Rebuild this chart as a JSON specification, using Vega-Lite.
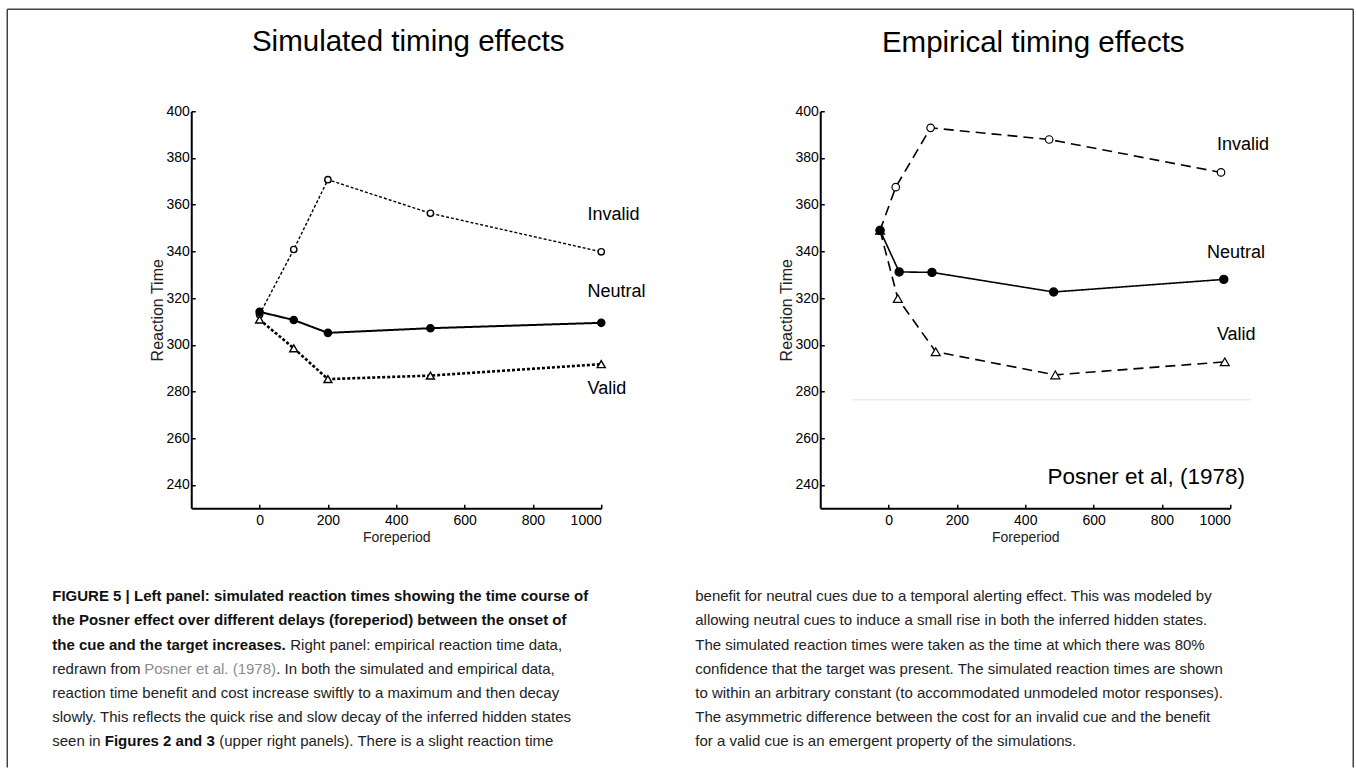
{
  "$schema": "https://vega.github.io/schema/vega-lite/v6.json",
  "padding": {"left": 6.25, "top": 8.25, "right": 1, "bottom": 0},
  "bounds": "flush",
  "spacing": 219,
  "resolve": {"scale": {"strokeDash": "independent", "strokeWidth": "independent", "size": "independent", "shape": "independent", "fill": "independent"}},
  "config": {
    "view": {"stroke": null},
    "font": "Liberation Sans",
    "axis": {
      "domainColor": "black", "domainWidth": 2, "tickColor": "black", "tickWidth": 1.5, "tickSize": -4,
      "labelFont": "Liberation Sans", "labelFontSize": 14, "labelColor": "black",
      "titleFont": "Liberation Sans", "titleFontSize": 14, "titleFontWeight": "normal", "titleColor": "#222",
      "grid": false
    }
  },
  "datasets": {
    "simulated": [
      {"cue": "Invalid", "foreperiod": 0, "rt": 313},
      {"cue": "Invalid", "foreperiod": 100, "rt": 340.8},
      {"cue": "Invalid", "foreperiod": 200, "rt": 370.7},
      {"cue": "Invalid", "foreperiod": 500, "rt": 356.3},
      {"cue": "Invalid", "foreperiod": 1000, "rt": 339.8},
      {"cue": "Valid", "foreperiod": 0, "rt": 310.8},
      {"cue": "Valid", "foreperiod": 100, "rt": 298.5},
      {"cue": "Valid", "foreperiod": 200, "rt": 285.3},
      {"cue": "Valid", "foreperiod": 500, "rt": 286.8},
      {"cue": "Valid", "foreperiod": 1000, "rt": 291.7},
      {"cue": "Neutral", "foreperiod": 0, "rt": 314.1},
      {"cue": "Neutral", "foreperiod": 100, "rt": 310.6},
      {"cue": "Neutral", "foreperiod": 200, "rt": 305.1},
      {"cue": "Neutral", "foreperiod": 500, "rt": 307.1},
      {"cue": "Neutral", "foreperiod": 1000, "rt": 309.4}
    ],
    "empirical": [
      {"cue": "Invalid", "foreperiod": -25, "rt": 349},
      {"cue": "Invalid", "foreperiod": 21, "rt": 367.5},
      {"cue": "Invalid", "foreperiod": 123, "rt": 392.9},
      {"cue": "Invalid", "foreperiod": 470, "rt": 387.9},
      {"cue": "Invalid", "foreperiod": 973, "rt": 373.8},
      {"cue": "Valid", "foreperiod": -25, "rt": 349},
      {"cue": "Valid", "foreperiod": 27, "rt": 319.8},
      {"cue": "Valid", "foreperiod": 138, "rt": 297},
      {"cue": "Valid", "foreperiod": 488, "rt": 287.1},
      {"cue": "Valid", "foreperiod": 984, "rt": 292.7},
      {"cue": "Neutral", "foreperiod": -25, "rt": 349},
      {"cue": "Neutral", "foreperiod": 31, "rt": 331.2},
      {"cue": "Neutral", "foreperiod": 127, "rt": 331},
      {"cue": "Neutral", "foreperiod": 483, "rt": 322.6},
      {"cue": "Neutral", "foreperiod": 981, "rt": 328}
    ],
    "simLabels": [
      {"label": "Invalid", "foreperiod": 960, "rt": 355.4},
      {"label": "Neutral", "foreperiod": 960, "rt": 322.5},
      {"label": "Valid", "foreperiod": 960, "rt": 281.1}
    ],
    "empLabels": [
      {"label": "Invalid", "foreperiod": 961, "rt": 385.7},
      {"label": "Neutral", "foreperiod": 932, "rt": 339.5},
      {"label": "Valid", "foreperiod": 961, "rt": 304}
    ],
    "source": [{"label": "Posner et al, (1978)", "foreperiod": 465, "rt": 243.3}],
    "scanline": [{"from": -107, "to": 1061, "rt": 276.5}],
    "caption": [
      {"col": 0, "line": 1, "run": "bold", "text": "FIGURE 5 | Left panel: simulated reaction times showing the time course of"},
      {"col": 0, "line": 2, "run": "bold", "text": "the Posner effect over different delays (foreperiod) between the onset of"},
      {"col": 0, "line": 3, "run": "bold", "text": "the cue and the target increases."},
      {"col": 0, "line": 3, "run": "cont3", "text": "Right panel: empirical reaction time data,"},
      {"col": 0, "line": 4, "run": "plain", "text": "redrawn from"},
      {"col": 0, "line": 4, "run": "link4", "text": "Posner et al. (1978)"},
      {"col": 0, "line": 4, "run": "cont4", "text": ". In both the simulated and empirical data,"},
      {"col": 0, "line": 5, "run": "plain", "text": "reaction time benefit and cost increase swiftly to a maximum and then decay"},
      {"col": 0, "line": 6, "run": "plain", "text": "slowly. This reflects the quick rise and slow decay of the inferred hidden states"},
      {"col": 0, "line": 7, "run": "plain", "text": "seen in"},
      {"col": 0, "line": 7, "run": "bold7", "text": "Figures 2 and 3"},
      {"col": 0, "line": 7, "run": "cont7", "text": "(upper right panels). There is a slight reaction time"},
      {"col": 1, "line": 1, "run": "plain", "text": "benefit for neutral cues due to a temporal alerting effect. This was modeled by"},
      {"col": 1, "line": 2, "run": "plain", "text": "allowing neutral cues to induce a small rise in both the inferred hidden states."},
      {"col": 1, "line": 3, "run": "plain", "text": "The simulated reaction times were taken as the time at which there was 80%"},
      {"col": 1, "line": 4, "run": "plain", "text": "confidence that the target was present. The simulated reaction times are shown"},
      {"col": 1, "line": 5, "run": "plain", "text": "to within an arbitrary constant (to accommodated unmodeled motor responses)."},
      {"col": 1, "line": 6, "run": "plain", "text": "The asymmetric difference between the cost for an invalid cue and the benefit"},
      {"col": 1, "line": 7, "run": "plain", "text": "for a valid cue is an emergent property of the simulations."}
    ]
  },
  "hconcat": [
    {
      "width": 410, "height": 397,
      "title": {"text": "Simulated timing effects", "fontSize": 29.5, "font": "Liberation Sans", "fontWeight": "normal", "color": "black", "anchor": "middle", "frame": "group", "dx": 12, "baseline": "alphabetic", "offset": -71.75},
      "resolve": {"scale": {"x": "independent", "y": "independent"}, "axis": {"x": "independent", "y": "independent"}},
      "layer": [
        {
          "layer": [
            {
              "data": {"name": "simulated"},
              "mark": {"type": "line", "color": "black"},
              "encoding": {
                "x": {"field": "foreperiod", "type": "quantitative", "scale": {"domain": [-200, 1000], "nice": false, "zero": false},
                      "axis": {"title": "Foreperiod", "orient": "bottom", "format": "d", "values": [0, 200, 400, 600, 800, 1000], "labelPadding": 9, "titlePadding": 3}},
                "y": {"field": "rt", "type": "quantitative", "scale": {"domain": [230, 400], "nice": false, "zero": false},
                      "axis": {"title": "Reaction Time", "orient": "left", "values": [240, 260, 280, 300, 320, 340, 360, 380, 400], "labelPadding": 6, "titlePadding": 0, "titleFontSize": 16}},
                "strokeDash": {"field": "cue", "type": "nominal", "scale": {"domain": ["Invalid", "Neutral", "Valid"], "range": [[3, 2], [1, 0], [3, 2]]}, "legend": null},
                "strokeWidth": {"field": "cue", "type": "ordinal", "scale": {"domain": ["Invalid", "Neutral", "Valid"], "range": [1.4, 2.6, 2.2]}, "legend": null}
              }
            },
            {
              "data": {"name": "simulated"},
              "mark": {"type": "point", "stroke": "black", "strokeWidth": 1.4, "opacity": 1},
              "encoding": {
                "x": {"field": "foreperiod", "type": "quantitative"},
                "y": {"field": "rt", "type": "quantitative"},
                "shape": {"field": "cue", "type": "nominal", "scale": {"domain": ["Invalid", "Neutral", "Valid"], "range": ["circle", "circle", "triangle-up"]}, "legend": null},
                "fill": {"field": "cue", "type": "nominal", "scale": {"domain": ["Invalid", "Neutral", "Valid"], "range": ["white", "black", "white"]}, "legend": null},
                "size": {"field": "cue", "type": "ordinal", "scale": {"domain": ["Invalid", "Neutral", "Valid"], "range": [40, 64, 50]}, "legend": null}
              }
            },
            {
              "data": {"name": "simLabels"},
              "mark": {"type": "text", "align": "left", "baseline": "middle", "fontSize": 18, "color": "black"},
              "encoding": {
                "x": {"field": "foreperiod", "type": "quantitative"},
                "y": {"field": "rt", "type": "quantitative"},
                "text": {"field": "label"}
              }
            }
          ]
        },
        {
          "layer": [
            {
              "data": {"values": [{}]},
              "mark": {"type": "rule", "color": "#444", "strokeWidth": 1.5},
              "encoding": {
                "x": {"datum": -0.06998, "type": "quantitative", "scale": {"domain": [0.21617, 0.85381], "nice": false, "zero": false}, "axis": null},
                "y": {"datum": -23.286, "type": "quantitative", "scale": {"domain": [-19.066, -2.641], "nice": false, "zero": false, "reverse": true}, "axis": null},
                "y2": {"datum": 8.08}
              }
            },
            {
              "data": {"values": [{}]},
              "mark": {"type": "rule", "color": "#444", "strokeWidth": 1.5},
              "encoding": {
                "x": {"datum": 2.02333, "type": "quantitative"},
                "y": {"datum": -23.286, "type": "quantitative"},
                "y2": {"datum": 8.08}
              }
            },
            {
              "data": {"values": [{}]},
              "mark": {"type": "rule", "color": "#444", "strokeWidth": 1.5},
              "encoding": {
                "x": {"datum": -0.06998, "type": "quantitative"},
                "x2": {"datum": 2.02333},
                "y": {"datum": -23.286, "type": "quantitative"}
              }
            },
            {
              "data": {"name": "caption"},
              "transform": [{"filter": "datum.run == 'plain'"}],
              "mark": {"type": "text", "align": "left", "baseline": "middle", "fontSize": 15, "color": "#222"},
              "encoding": {"x": {"field": "col", "type": "quantitative"}, "y": {"field": "line", "type": "quantitative"}, "text": {"field": "text"}}
            },
            {
              "data": {"name": "caption"},
              "transform": [{"filter": "datum.run == 'bold'"}],
              "mark": {"type": "text", "align": "left", "baseline": "middle", "fontSize": 15, "fontWeight": "bold", "color": "#111"},
              "encoding": {"x": {"field": "col", "type": "quantitative"}, "y": {"field": "line", "type": "quantitative"}, "text": {"field": "text"}}
            },
            {
              "data": {"name": "caption"},
              "transform": [{"filter": "datum.run == 'cont3'"}],
              "mark": {"type": "text", "align": "left", "baseline": "middle", "fontSize": 15, "dx": 238, "color": "#222"},
              "encoding": {"x": {"field": "col", "type": "quantitative"}, "y": {"field": "line", "type": "quantitative"}, "text": {"field": "text"}}
            },
            {
              "data": {"name": "caption"},
              "transform": [{"filter": "datum.run == 'link4'"}],
              "mark": {"type": "text", "align": "left", "baseline": "middle", "fontSize": 15, "dx": 92, "color": "#8c8c8c"},
              "encoding": {"x": {"field": "col", "type": "quantitative"}, "y": {"field": "line", "type": "quantitative"}, "text": {"field": "text"}}
            },
            {
              "data": {"name": "caption"},
              "transform": [{"filter": "datum.run == 'cont4'"}],
              "mark": {"type": "text", "align": "left", "baseline": "middle", "fontSize": 15, "dx": 224, "color": "#222"},
              "encoding": {"x": {"field": "col", "type": "quantitative"}, "y": {"field": "line", "type": "quantitative"}, "text": {"field": "text"}}
            },
            {
              "data": {"name": "caption"},
              "transform": [{"filter": "datum.run == 'bold7'"}],
              "mark": {"type": "text", "align": "left", "baseline": "middle", "fontSize": 15, "dx": 52.5, "fontWeight": "bold", "color": "#111"},
              "encoding": {"x": {"field": "col", "type": "quantitative"}, "y": {"field": "line", "type": "quantitative"}, "text": {"field": "text"}}
            },
            {
              "data": {"name": "caption"},
              "transform": [{"filter": "datum.run == 'cont7'"}],
              "mark": {"type": "text", "align": "left", "baseline": "middle", "fontSize": 15, "dx": 167, "color": "#222"},
              "encoding": {"x": {"field": "col", "type": "quantitative"}, "y": {"field": "line", "type": "quantitative"}, "text": {"field": "text"}}
            }
          ]
        }
      ]
    },
    {
      "width": 410, "height": 397,
      "title": {"text": "Empirical timing effects", "fontSize": 29.5, "font": "Liberation Sans", "fontWeight": "normal", "color": "black", "anchor": "middle", "frame": "group", "dx": 8, "baseline": "alphabetic", "offset": 23},
      "layer": [
        {
          "data": {"name": "scanline"},
          "mark": {"type": "rule", "color": "#ececec", "strokeWidth": 1.5},
          "encoding": {
            "x": {"field": "from", "type": "quantitative", "scale": {"domain": [-200, 1000], "nice": false, "zero": false},
                  "axis": {"title": "Foreperiod", "format": "d", "values": [0, 200, 400, 600, 800, 1000], "labelPadding": 9, "titlePadding": 3}},
            "x2": {"field": "to"},
            "y": {"field": "rt", "type": "quantitative", "scale": {"domain": [230, 400], "nice": false, "zero": false},
                  "axis": {"title": "Reaction Time", "values": [240, 260, 280, 300, 320, 340, 360, 380, 400], "labelPadding": 6, "titlePadding": 0, "titleFontSize": 16}}
          }
        },
        {
          "data": {"name": "empirical"},
          "mark": {"type": "line", "color": "black"},
          "encoding": {
            "x": {"field": "foreperiod", "type": "quantitative"},
            "y": {"field": "rt", "type": "quantitative"},
            "strokeDash": {"field": "cue", "type": "nominal", "scale": {"domain": ["Invalid", "Neutral", "Valid"], "range": [[10, 6], [1, 0], [10, 6]]}, "legend": null},
            "strokeWidth": {"field": "cue", "type": "ordinal", "scale": {"domain": ["Invalid", "Neutral", "Valid"], "range": [1.6, 1.6, 1.6]}, "legend": null}
          }
        },
        {
          "data": {"name": "empirical"},
          "mark": {"type": "point", "stroke": "black", "strokeWidth": 1.2, "opacity": 1},
          "encoding": {
            "x": {"field": "foreperiod", "type": "quantitative"},
            "y": {"field": "rt", "type": "quantitative"},
            "shape": {"field": "cue", "type": "nominal", "scale": {"domain": ["Invalid", "Neutral", "Valid"], "range": ["circle", "circle", "triangle-up"]}, "legend": null},
            "fill": {"field": "cue", "type": "nominal", "scale": {"domain": ["Invalid", "Neutral", "Valid"], "range": ["white", "black", "white"]}, "legend": null},
            "size": {"field": "cue", "type": "ordinal", "scale": {"domain": ["Invalid", "Neutral", "Valid"], "range": [56, 80, 56]}, "legend": null}
          }
        },
        {
          "data": {"name": "empLabels"},
          "mark": {"type": "text", "align": "left", "baseline": "middle", "fontSize": 18, "color": "black"},
          "encoding": {
            "x": {"field": "foreperiod", "type": "quantitative"},
            "y": {"field": "rt", "type": "quantitative"},
            "text": {"field": "label"}
          }
        },
        {
          "data": {"name": "source"},
          "mark": {"type": "text", "align": "left", "baseline": "middle", "fontSize": 22.5, "color": "black"},
          "encoding": {
            "x": {"field": "foreperiod", "type": "quantitative"},
            "y": {"field": "rt", "type": "quantitative"},
            "text": {"field": "label"}
          }
        }
      ]
    }
  ]
}
